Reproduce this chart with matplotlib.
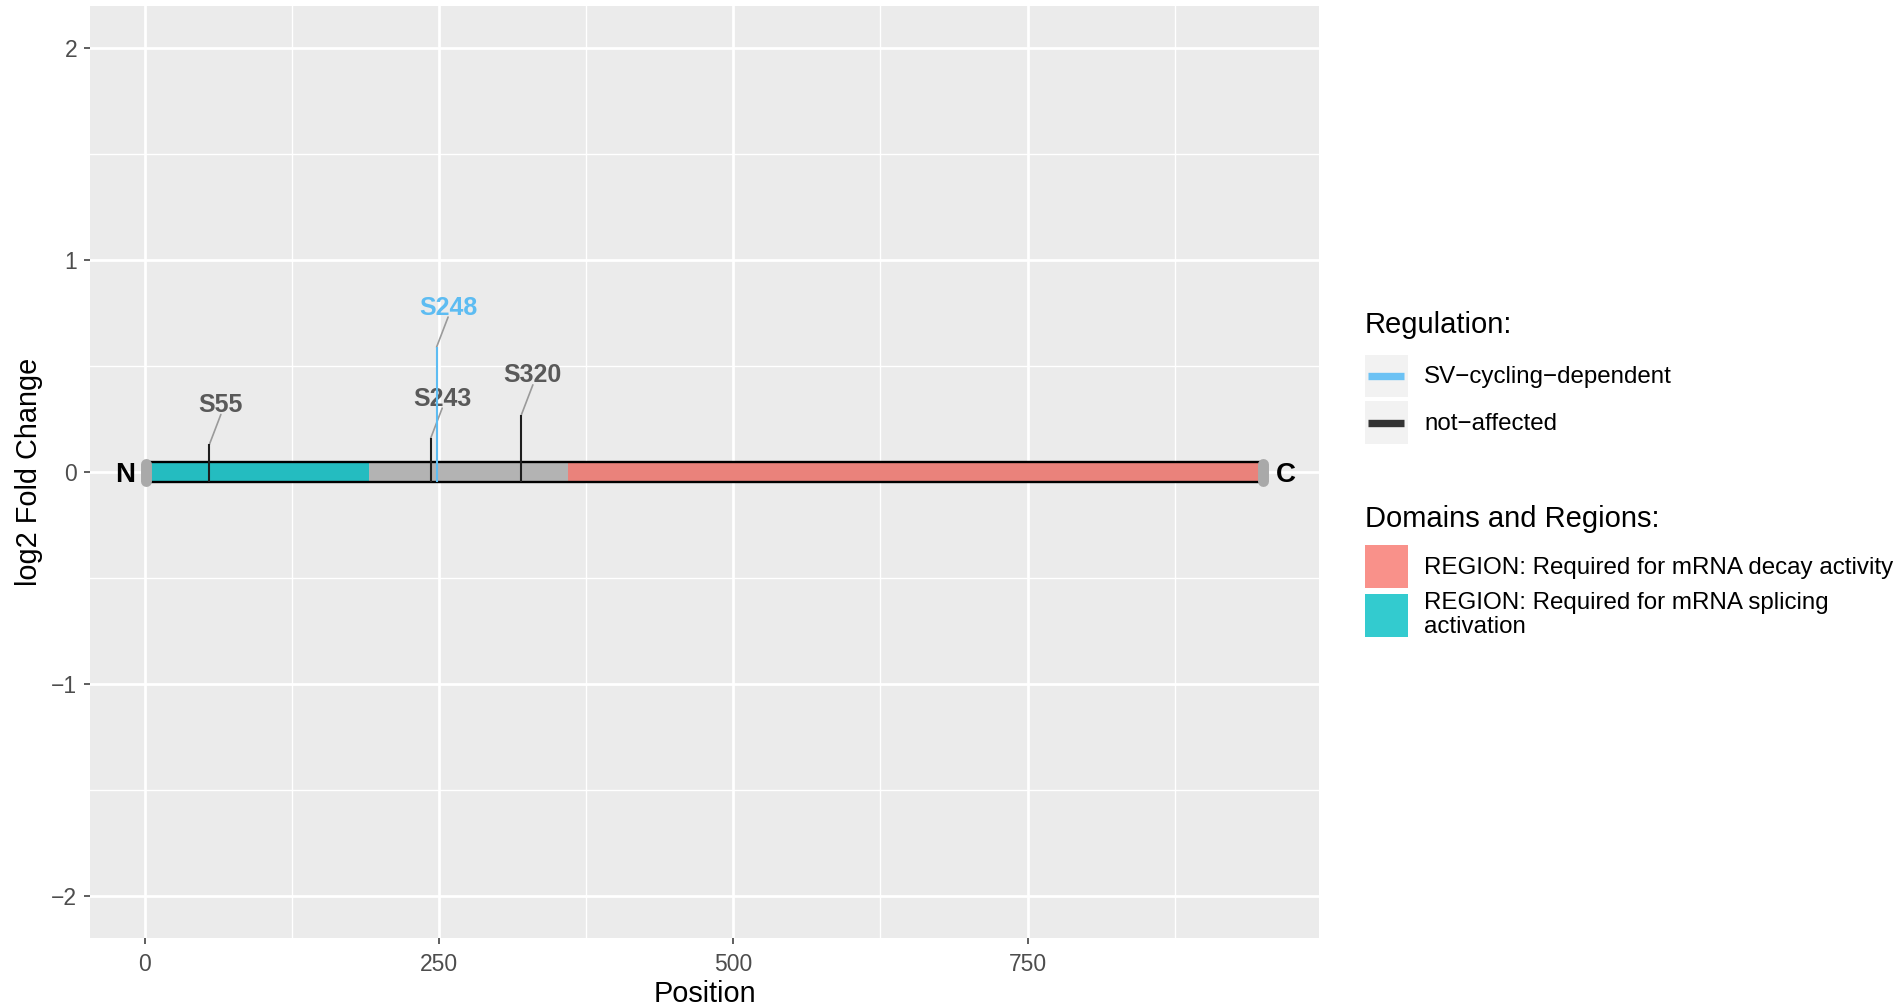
import matplotlib
matplotlib.use("Agg")
import matplotlib.pyplot as plt
from matplotlib.patches import Rectangle, Patch
from matplotlib.lines import Line2D
from matplotlib.legend_handler import HandlerBase

plt.rcParams['font.family'] = ['Liberation Sans', 'DejaVu Sans']

# protein and its regions
protein_start = 1
protein_end = 950
domain_names = ["REGION: Required for mRNA decay activity",
                "REGION: Required for mRNA splicing\nactivation"]
domain_starts = [360, 1]
domain_ends = [950, 191]
domain_colors = ["#F8766D", "#00BFC4"]

# phosphosites
site_labels = ["S55", "S243", "S248", "S320"]
site_positions = [55, 243, 248, 320]
site_log2fc = [0.13, 0.16, 0.59, 0.27]
site_regulation = ["not-affected", "not-affected", "SV-cycling-dependent", "not-affected"]

reg_names = ["SV-cycling-dependent", "not-affected"]
reg_legend_labels = ["SV\u2212cycling\u2212dependent", "not\u2212affected"]
reg_colors = {"SV-cycling-dependent": "#5DBCF2", "not-affected": "#1E1E1E"}
reg_key_colors = {"SV-cycling-dependent": "#6CC2F4", "not-affected": "#333333"}
reg_label_colors = {"SV-cycling-dependent": "#5DBCF2", "not-affected": "#595959"}

x_ticks = [0, 250, 500, 750]
y_ticks = [-2, -1, 0, 1, 2]

BAR_H = 0.045


class LineKey(HandlerBase):
    # grey key background with a centred horizontal line, like ggplot
    def create_artists(self, legend, orig_handle, xdescent, ydescent,
                       width, height, fontsize, trans):
        bg = Rectangle((-xdescent, -ydescent), width, height,
                       facecolor="#F2F2F2", edgecolor="none", transform=trans)
        y = -ydescent + height / 2
        ln = Line2D([-xdescent + 0.08 * width, -xdescent + 0.92 * width], [y, y],
                    color=orig_handle.get_color(), lw=orig_handle.get_linewidth(),
                    solid_capstyle="butt", transform=trans)
        return [bg, ln]


fig = plt.figure(figsize=(18.97, 10.07), dpi=100)
ax = fig.add_axes([0.0474, 0.0685, 0.6479, 0.9255])
ax.set_facecolor("#EBEBEB")
for s in ax.spines.values():
    s.set_visible(False)

span = protein_end - protein_start
ax.set_xlim(protein_start - 0.05 * span, protein_end + 0.05 * span)
ax.set_ylim(-2.2, 2.2)
ax.set_xticks(x_ticks)
ax.set_xticks([125, 375, 625, 875], minor=True)
ax.set_yticks(y_ticks)
ax.set_yticks([-1.5, -0.5, 0.5, 1.5], minor=True)
ax.grid(which="major", color="white", lw=2.0)
ax.grid(which="minor", color="white", lw=1.0)
ax.set_axisbelow(True)
ax.tick_params(which="major", length=4.3, width=1.1, color="#333333",
               labelcolor="#4D4D4D", labelsize=16.5)
ax.tick_params(axis="x", pad=6.8)
ax.tick_params(axis="y", pad=5)
ax.tick_params(which="minor", length=0)

# backbone
ax.add_patch(Rectangle((protein_start, -BAR_H), span, 2 * BAR_H,
                       facecolor="#B3B3B3", edgecolor="none", zorder=2))
for st, en, col in zip(domain_starts, domain_ends, domain_colors):
    ax.add_patch(Rectangle((st, -BAR_H), en - st, 2 * BAR_H,
                           facecolor=col, alpha=0.8, edgecolor="none", zorder=3))
ax.add_patch(Rectangle((protein_start, -BAR_H), span, 2 * BAR_H,
                       fill=False, edgecolor="black", lw=1.7, zorder=4))

# end caps
for xe in (protein_start, protein_end):
    ax.plot([xe, xe], [-0.04, 0.04], color="#A9A9A9", lw=7.9,
            solid_capstyle="round", zorder=6)
ax.annotate("N", xy=(protein_start, 0), xytext=(-21, 0), textcoords="offset pixels",
            ha="center", va="center_baseline", fontsize=20, fontweight="bold", color="black")
ax.annotate("C", xy=(protein_end, 0), xytext=(23, 0), textcoords="offset pixels",
            ha="center", va="center_baseline", fontsize=20, fontweight="bold", color="black")

# sites
for lab, pos, fc, reg in zip(site_labels, site_positions, site_log2fc, site_regulation):
    ax.annotate("", xy=(pos, fc), xytext=(11.5, 30), textcoords="offset pixels",
                arrowprops=dict(arrowstyle="-", color="#9A9A9A", lw=1.2,
                                shrinkA=0, shrinkB=0), zorder=5)
    ax.annotate(lab, xy=(pos, fc), xytext=(11.5, 42), textcoords="offset pixels",
                ha="center", va="center_baseline", fontsize=18, fontweight="bold",
                color=reg_label_colors[reg], zorder=5)
for pos, fc, reg in zip(site_positions, site_log2fc, site_regulation):
    ax.vlines(pos, -BAR_H, fc, color=reg_colors[reg], lw=1.5, zorder=7)

ax.set_xlabel("Position", fontsize=20.8, color="black")
ax.xaxis.label.set_va("center")
ax.xaxis.set_label_coords(0.5, -0.0605)
ax.set_ylabel("log2 Fold Change", fontsize=20.8, color="black")
ax.yaxis.label.set_va("center")
ax.yaxis.set_label_coords(-0.0497, 0.5)

# legends (titles placed as separate text, like ggplot's spacing)
fig.text(0.7193, 0.669, "Regulation:", fontsize=21, va="baseline", ha="left")
fig.text(0.7193, 0.477, "Domains and Regions:", fontsize=21, va="baseline", ha="left")

reg_handles = [Line2D([], [], color=reg_key_colors[r], lw=5.3) for r in reg_names]
leg1 = fig.legend(handles=reg_handles, labels=reg_legend_labels,
                  handler_map={Line2D: LineKey()},
                  loc="upper left", bbox_to_anchor=(0.7193, 0.6478),
                  frameon=False, fontsize=17.4,
                  handlelength=1.78, handleheight=2.338, labelspacing=0.17,
                  handletextpad=0.68, borderpad=0, borderaxespad=0)
dom_handles = [Patch(facecolor=c, alpha=0.8, edgecolor="none") for c in domain_colors]
leg2 = fig.legend(handles=dom_handles, labels=domain_names,
                  loc="upper left", bbox_to_anchor=(0.7193, 0.4588),
                  frameon=False, fontsize=17.4,
                  handlelength=1.78, handleheight=2.338, labelspacing=0.17,
                  handletextpad=0.68, borderpad=0, borderaxespad=0)
for t in leg2.get_texts():
    t.set_linespacing(1.12)

fig.savefig("out.png", dpi=100)
